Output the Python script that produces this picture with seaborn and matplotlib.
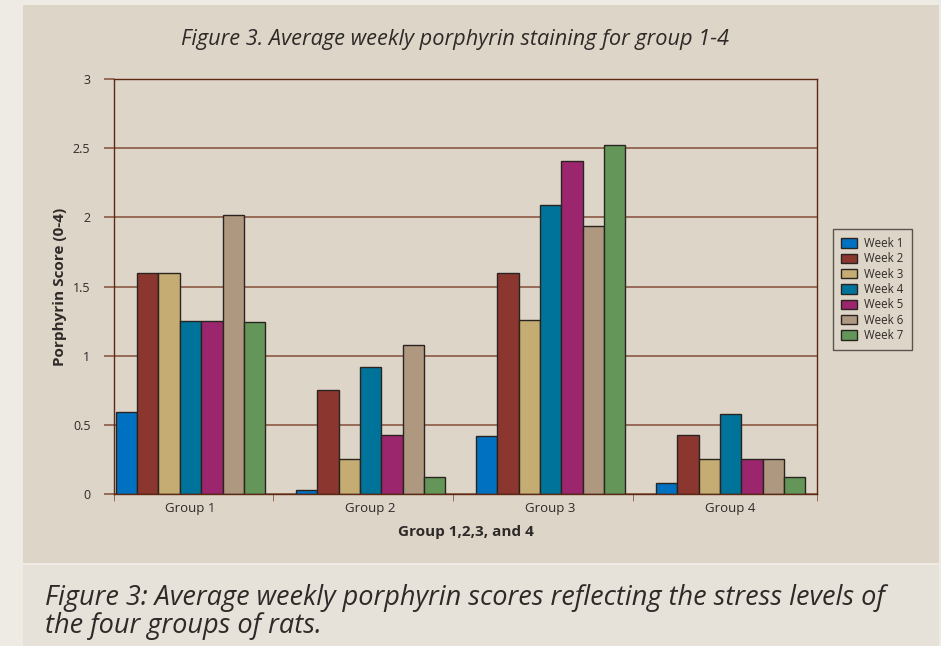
import pandas as pd
import matplotlib.pyplot as plt
import seaborn as sns
from matplotlib.patches import Rectangle
from matplotlib.ticker import FixedLocator

# Data
groups = ['Group 1', 'Group 2', 'Group 3', 'Group 4']
weeks = ['Week 1', 'Week 2', 'Week 3', 'Week 4', 'Week 5', 'Week 6', 'Week 7']
week1 = [0.59, 0.03, 0.42, 0.08]
week2 = [1.60, 0.75, 1.60, 0.43]
week3 = [1.60, 0.25, 1.26, 0.25]
week4 = [1.25, 0.92, 2.09, 0.58]
week5 = [1.25, 0.43, 2.41, 0.25]
week6 = [2.02, 1.08, 1.94, 0.25]
week7 = [1.24, 0.12, 2.52, 0.12]
week_colors = ['#0070C0', '#8B3730', '#C5AC72', '#00739A', '#9B266E', '#AE9980', '#64965A']
y_ticks = [0, 0.5, 1, 1.5, 2, 2.5, 3]
y_labels = ['0', '0.5', '1', '1.5', '2', '2.5', '3']

series = [week1, week2, week3, week4, week5, week6, week7]
rows = []
for w, vals in zip(weeks, series):
    for g, v in zip(groups, vals):
        rows.append({'Group': g, 'Week': w, 'Score': v})
df = pd.DataFrame(rows)

sns.set_style('white')
plt.rcParams['font.family'] = ['Open Sans', 'DejaVu Sans']
brown = '#5C2A12'
grid_brown = '#8A5A44'
text_col = '#2E2A28'

fig = plt.figure(figsize=(9.41, 6.46), dpi=100)
fig.patch.set_facecolor('#EEEBE4')
# panel backgrounds
fig.patches.append(Rectangle((23 / 941, 1 - 563 / 646), 916 / 941, 558 / 646,
                             transform=fig.transFigure, facecolor='#DED5C9', edgecolor='none', zorder=-10))
fig.patches.append(Rectangle((23 / 941, 0), 916 / 941, 81 / 646,
                             transform=fig.transFigure, facecolor='#E7E2D9', edgecolor='none', zorder=-10))

ax = fig.add_axes([114 / 941, 1 - 494 / 646, 703 / 941, 415 / 646])
ax.set_facecolor('#DED5C9')

sns.barplot(data=df, x='Group', y='Score', hue='Week', palette=week_colors, saturation=1,
            width=0.83, edgecolor='#2A2420', linewidth=1.0, ax=ax, legend=True)

ax.set_ylim(0, 3)
ax.set_xlim(-0.425, 3.48)
ax.set_yticks(y_ticks)
ax.set_yticklabels(y_labels)
ax.yaxis.grid(True, color=grid_brown, linewidth=1.2)
ax.set_axisbelow(True)
ax.tick_params(axis='y', length=7, color=grid_brown, width=1.2, labelsize=9, labelcolor=text_col, pad=10, left=True)
ax.tick_params(axis='x', which='major', length=0, labelsize=9.5, labelcolor=text_col, pad=6)
ax.xaxis.set_minor_locator(FixedLocator([-0.425, 0.46, 1.46, 2.46, 3.48]))
ax.tick_params(axis='x', which='minor', length=5, color=grid_brown, bottom=True)
for s in ax.spines.values():
    s.set_color(brown)
    s.set_linewidth(1.0)

ax.set_xlabel('Group 1,2,3, and 4', fontsize=11, fontweight='bold', color=text_col, labelpad=7)
ax.set_ylabel('Porphyrin Score (0-4)', fontsize=11, fontweight='bold', color=text_col, labelpad=4)

leg = ax.legend(loc='upper left', bbox_to_anchor=(833 / 941, 1 - 229 / 646), bbox_transform=fig.transFigure,
                borderaxespad=0, fontsize=8.3, frameon=True, fancybox=False, handlelength=1.4, handleheight=0.9,
                handletextpad=0.6, labelspacing=0.2, borderpad=0.7, edgecolor='#3A3430', facecolor='#DED5C9')
leg.get_frame().set_linewidth(1.0)
for t in leg.get_texts():
    t.set_color(text_col)

fig.text(0.484, 1 - 40 / 646, 'Figure 3. Average weekly porphyrin staining for group 1-4',
         ha='center', va='center', fontsize=15.7, style='italic', color=text_col)
fig.text(45 / 941, 1 - 612 / 646,
         'Figure 3: Average weekly porphyrin scores reflecting the stress levels of\nthe four groups of rats.',
         ha='left', va='center', fontsize=19.5, style='italic', color=text_col, linespacing=1.0)

fig.savefig('out.png', dpi=100, facecolor=fig.get_facecolor())
